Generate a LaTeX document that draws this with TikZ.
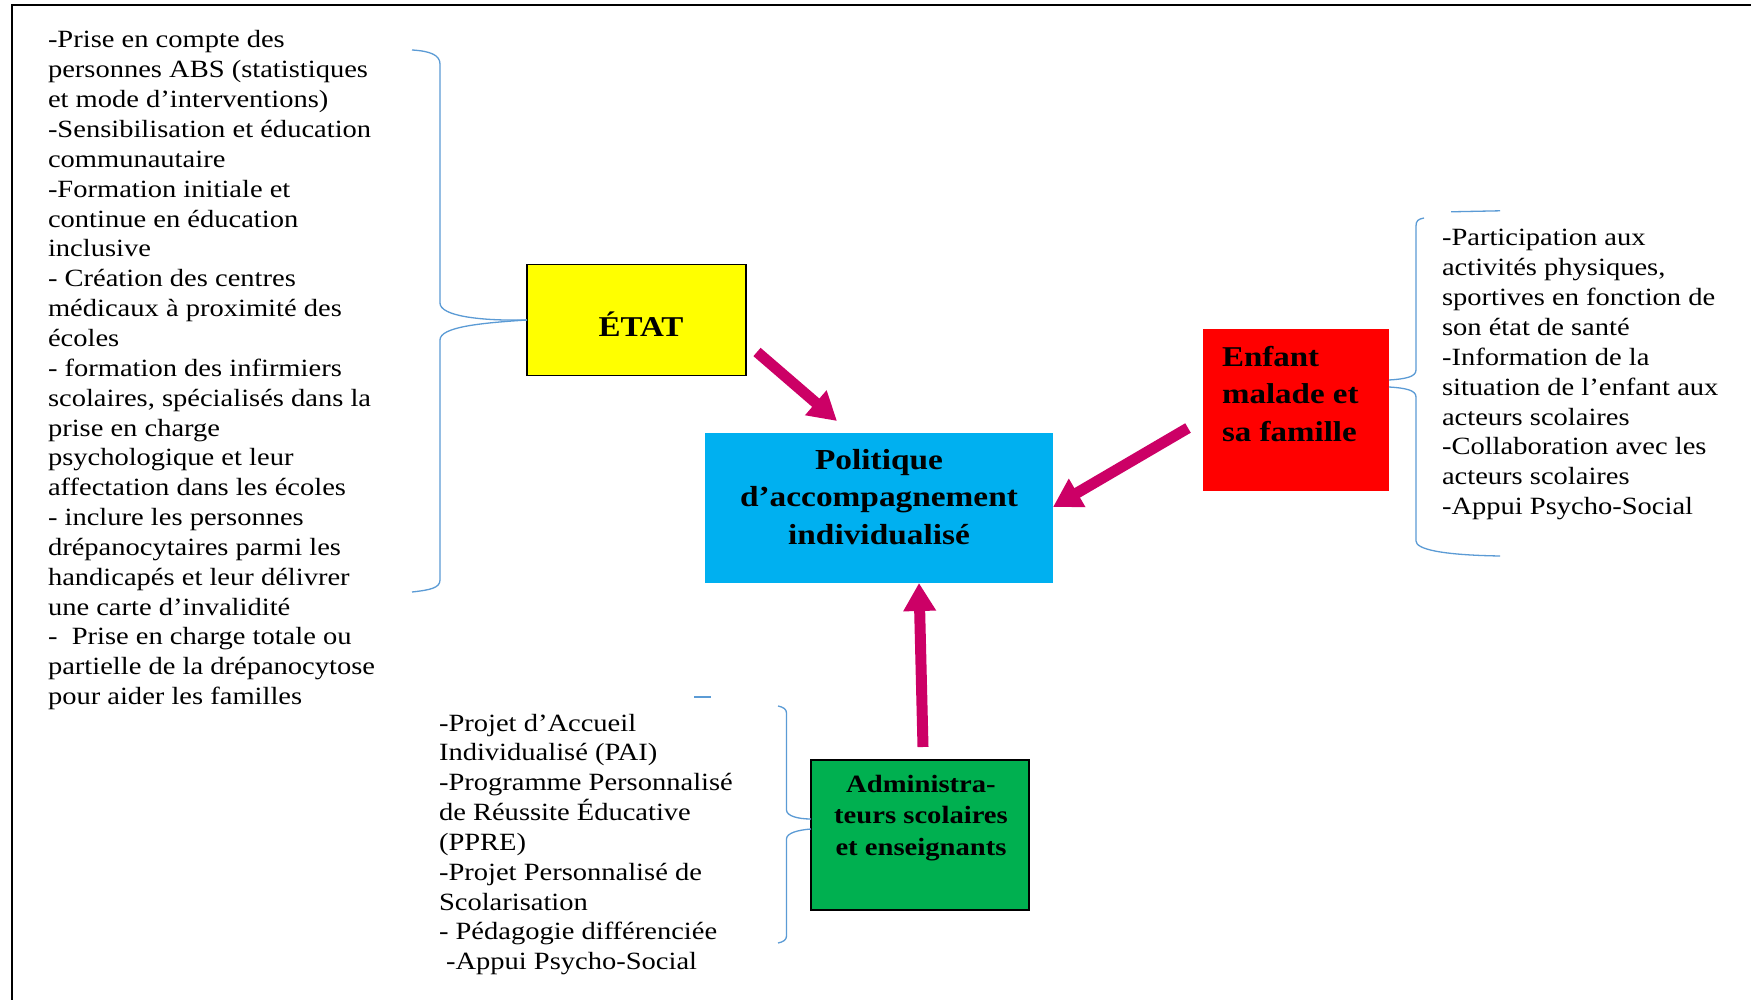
\documentclass[tikz,border=0pt]{standalone}
\usepackage{fontspec}
\setmainfont{Liberation Serif}[FakeStretch=1.15]
\usetikzlibrary{arrows.meta}
\definecolor{arrowmag}{HTML}{CC0066}
\definecolor{braceblue}{HTML}{5B9BD5}
\definecolor{boxcyan}{HTML}{00B0F0}
\definecolor{boxgreen}{HTML}{00B050}
\definecolor{boxred}{HTML}{FF0000}
\definecolor{boxyellow}{HTML}{FFFF00}
\newcommand{\regfont}{\fontsize{24.8}{29.85}\selectfont}
\begin{document}
\begin{tikzpicture}[x=1pt,y=-1pt,
  boxshape/.style={rectangle, inner sep=0pt, outer sep=0pt},
  txt/.style={inner sep=0pt, outer sep=0pt, font=\regfont},
  boldtxt/.style={inner sep=0pt, outer sep=0pt},
  arr/.style={draw=arrowmag, line width=11pt, -{Triangle[width=31pt,length=28pt]}},
  bracestyle/.style={draw=braceblue, line width=1.3pt},
  frame/.style={draw=black, line width=2pt}]
\useasboundingbox (0,0) rectangle (1751,1000);
\fill[white] (0,0) rectangle (1751,1000);
% frame
\draw[frame] (11.5,1000) -- (11.5,5.5) -- (1751,5.5);

% boxes
\node[boxshape, fill=boxyellow, draw=black, line width=1.5pt, minimum width=219pt, minimum height=111pt] (etat) at (636.5,320) {};
\node[boxshape, fill=boxcyan, minimum width=348pt, minimum height=150pt] (pol) at (879,508) {};
\node[boxshape, fill=boxred, minimum width=186pt, minimum height=162pt] (enf) at (1296,410) {};
\node[boxshape, fill=boxgreen, draw=black, line width=1.8pt, minimum width=218pt, minimum height=150pt] (adm) at (920,835) {};

% box texts
\node[boldtxt, anchor=base, font=\bfseries\fontsize{28.7}{37.5}\selectfont] (etatT) at (641,337) {ÉTAT};
\node[boldtxt, anchor=base, font=\bfseries\fontsize{29}{37.5}\selectfont] (polT) at (879,469)
  {\parbox[t]{340pt}{\centering Politique\\ d’accompagnement\\ individualisé}};
\node[boldtxt, anchor=base west, font=\bfseries\fontsize{28.7}{37.5}\selectfont] (enfT) at (1222,366)
  {\parbox[t]{165pt}{\raggedright Enfant\\ malade et\\ sa famille}};
\node[boldtxt, anchor=base, font=\bfseries\fontsize{24.9}{31.6}\selectfont] (admT) at (921,792)
  {\parbox[t]{212pt}{\centering Administra-\\ teurs scolaires\\ et enseignants}};

% side texts
\node[txt, anchor=base west] (left) at (48,48) {\parbox[t]{360pt}{\raggedright
-Prise en compte des\\
personnes ABS (statistiques\\
et mode d’interventions)\\
-Sensibilisation et éducation\\
communautaire\\
-Formation initiale et\\
continue en éducation\\
inclusive\\
- Création des centres\\
médicaux à proximité des\\
écoles\\
- formation des infirmiers\\
scolaires, spécialisés dans la\\
prise en charge\\
psychologique et leur\\
affectation dans les écoles\\
- inclure les personnes\\
drépanocytaires parmi les\\
handicapés et leur délivrer\\
une carte d’invalidité\\
-\ \ Prise en charge totale ou\\
partielle de la drépanocytose\\
pour aider les familles}};

\node[txt, anchor=base west] (right) at (1442,246) {\parbox[t]{300pt}{\raggedright
-Participation aux\\
activités physiques,\\
sportives en fonction de\\
son état de santé\\
-Information de la\\
situation de l’enfant aux\\
acteurs scolaires\\
-Collaboration avec les\\
acteurs scolaires\\
-Appui Psycho-Social}};

\node[txt, anchor=base west] (bottom) at (439,731) {\parbox[t]{330pt}{\raggedright
-Projet d’Accueil\\
Individualisé (PAI)\\
-Programme Personnalisé\\
de Réussite Éducative\\
(PPRE)\\
-Projet Personnalisé de\\
Scolarisation\\
- Pédagogie différenciée\\
\hspace*{7pt}-Appui Psycho-Social}};

% braces
\draw[bracestyle] (412,50) .. controls (430,51) and (440,55) .. (440,64) -- (440,303)
  .. controls (440,316) and (480,321) .. (etat.west);
\draw[bracestyle] (etat.west) .. controls (480,323) and (440,327) .. (440,340) -- (440,580)
  .. controls (440,588) and (430,590) .. (412,592);

\draw[bracestyle] (1451,211.8) -- (1500,210.8);
\draw[bracestyle] (1424,218) .. controls (1418,219) and (1416,221) .. (1416,226) -- (1416,370)
  .. controls (1416,377) and (1405,379) .. (enf.east |- 0,380);
\draw[bracestyle] (enf.east |- 0,387) .. controls (1405,388) and (1416,390) .. (1416,397) -- (1416,541)
  .. controls (1416,549) and (1440,555) .. (1500,556);

\draw[bracestyle] (694,697) -- (711,697);
\draw[bracestyle] (778,706) .. controls (783,707) and (786.5,709) .. (786.5,713) -- (786.5,810)
  .. controls (786.5,816) and (798,819) .. (adm.west |- 0,819);
\draw[bracestyle] (adm.west |- 0,829) .. controls (798,830) and (786.5,833) .. (786.5,839) -- (786.5,936)
  .. controls (786.5,940) and (783,942) .. (778,943);

% arrows
\coordinate (a1s) at (757,352);
\coordinate (a1e) at (837,421);
\coordinate (a2s) at (1188,428);
\coordinate (a3s) at (923,747);
\draw[arr] (a1s) -- (a1e);
\draw[arr] (a2s) -- (pol.east |- 0,507);
\draw[arr] (a3s) -- (pol.south -| 919,0);
\end{tikzpicture}
\end{document}
